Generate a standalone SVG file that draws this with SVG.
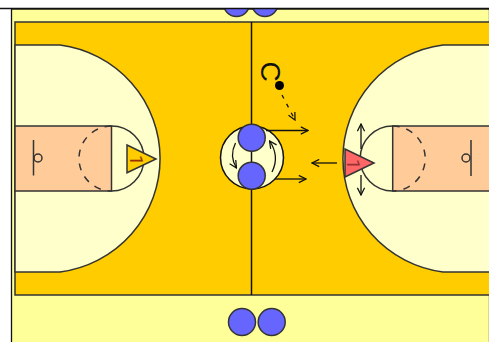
<svg xmlns="http://www.w3.org/2000/svg" width="489" height="342" viewBox="0 0 489 342">
<defs>
<marker id="a" viewBox="0 0 10 10" refX="9" refY="5" markerWidth="9" markerHeight="9" markerUnits="userSpaceOnUse" orient="auto"><path d="M1 1L9 5L1 9" fill="none" stroke="#111" stroke-width="1.4"/></marker>
</defs>
<style>
.l{stroke:#333;stroke-width:1.5}
.p{fill:#66f;stroke:#333;stroke-width:1.5}
.c{fill:none;stroke:#111;stroke-width:1.3;marker-end:url(#a)}
.d{stroke-dasharray:7 7;fill:none;stroke:#333;stroke-width:1.5}
.n{font-family:Roboto,"Liberation Sans",sans-serif;font-size:18px}
text{font-family:"Liberation Sans",Arial,sans-serif}
</style>
<rect width="489" height="342" fill="#fff"/>
<g id="court">
<rect x="11.500" y="9" width="478" height="334" fill="#ff9" stroke="#111" stroke-width="1.300"/>
<rect x="15" y="22" width="476" height="273" fill="#fc0" class="l"/>
<path d="M15 45H60A115 114.470 0 0 1 60 272H15Z" fill="#ffc" class="l"/>
<path d="M491 45H443A115 114.470 0 0 0 443 272H491Z" fill="#ffc" class="l"/>
<rect x="15" y="126" width="96.500" height="65" fill="#fc9" class="l"/>
<rect x="392.700" y="126" width="98" height="65" fill="#fc9" class="l"/>
<path d="M111.500 126A32.500 32.500 0 0 1 111.500 191" fill="none" class="l"/>
<path d="M111.500 126A32.500 32.500 0 0 0 111.500 191" class="d"/>
<path d="M392.700 126A32.500 32.500 0 0 0 392.700 191" fill="none" class="l"/>
<path d="M392.700 126A32.500 32.500 0 0 1 392.700 191" class="d"/>
<path d="M33.500 140V175.500M471 140V176" fill="none" class="l"/>
<circle cx="38" cy="158" r="4" fill="none" class="l"/>
<circle cx="466" cy="158" r="4" fill="none" class="l"/>
<path d="M251.500 22V295" stroke="#111" stroke-width="1.500"/>
<circle cx="252" cy="157.500" r="31.500" fill="#ffc" stroke="#111" stroke-width="1.500"/>
<path d="M251.500 140V176" stroke="#111" stroke-width="1.500"/>
</g>
<g id="connectors">
<path class="c" d="M266 130.500H308"/>
<path class="c" d="M275 179H306"/>
<path class="c" d="M337 163H312"/>
<path class="c" d="M235.500 143Q229 156 236.500 168"/>
<path class="c" d="M272 172Q280 156 269.500 141"/>
<path class="c" d="M361 149V124"/>
<path class="c" d="M361 175V195"/>
<path class="c" stroke-dasharray="4 6" d="M282 95L295 120"/>
</g>
<g id="p-top-left"><circle class="p" cx="236.500" cy="3.500" r="13"/></g>
<g id="p-top-right"><circle class="p" cx="265" cy="3.500" r="13"/></g>
<rect width="489" height="8" fill="#fff"/>
<path d="M0 8.500H489" stroke="#111" stroke-width="1.500"/>
<g id="p-center-top"><circle class="p" cx="251.700" cy="137.700" r="13.500"/></g>
<g id="p-center-bottom"><circle class="p" cx="251.700" cy="175.700" r="13.500"/></g>
<g id="p-bottom-left"><circle class="p" cx="242" cy="322" r="13.500"/></g>
<g id="p-bottom-right"><circle class="p" cx="271.700" cy="322" r="13.500"/></g>
<g id="player-1-left">
<path d="M127 145V172.700L156 159Z" fill="#fc0" stroke="#333" stroke-width="1.500"/>
<text class="n" transform="translate(130 155) rotate(90)" fill="#930">1</text>
</g>
<g id="player-1-right">
<path d="M345 149V177L374 163Z" fill="#f66" stroke="#333" stroke-width="1.500"/>
<text class="n" transform="translate(347 159) rotate(90)" fill="#933">1</text>
</g>
<g id="coach">
<text transform="translate(260.500 61.500) rotate(90)" font-size="28" fill="#111">C</text>
<circle cx="279.500" cy="85.500" r="4.500" fill="#000"/>
</g>
</svg>
